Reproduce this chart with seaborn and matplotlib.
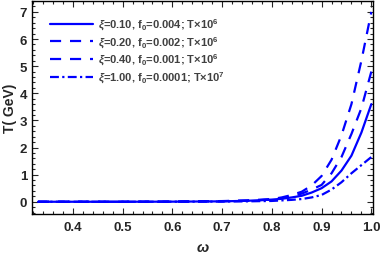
import numpy as np
import pandas as pd
import matplotlib
matplotlib.use("Agg")
import matplotlib.pyplot as plt
import seaborn as sns
from matplotlib.ticker import MultipleLocator, AutoMinorLocator

# data
omega = [0.33, 0.40, 0.50, 0.60, 0.70, 0.75, 0.80, 0.82, 0.84, 0.86, 0.88,
         0.90, 0.92, 0.94, 0.96, 0.98, 1.00]
T_xi010 = [0.0, 0.0, 0.0, 0.004, 0.015, 0.035, 0.08, 0.11, 0.16, 0.22, 0.34,
           0.50, 0.75, 1.15, 1.70, 2.55, 3.60]
T_xi020 = [0.0, 0.0, 0.0, 0.006, 0.025, 0.05, 0.10, 0.16, 0.25, 0.37, 0.60,
           0.95, 1.55, 2.45, 3.60, 5.20, 7.00]
T_xi040 = [0.0, 0.0, 0.0, 0.005, 0.02, 0.04, 0.08, 0.13, 0.20, 0.30, 0.45,
           0.62, 1.05, 1.65, 2.50, 3.45, 4.80]
T_xi100 = [0.0, 0.0, 0.0, 0.002, 0.008, 0.015, 0.03, 0.05, 0.07, 0.10, 0.16,
           0.25, 0.45, 0.72, 1.05, 1.35, 1.65]
labels = [r"$\xi$=0.10, f$_0$=0.004; T×10$^6$",
          r"$\xi$=0.20, f$_0$=0.002; T×10$^6$",
          r"$\xi$=0.40, f$_0$=0.001; T×10$^6$",
          r"$\xi$=1.00, f$_0$=0.0001; T×10$^7$"]

sns.set_style("ticks")
plt.rcParams["font.family"] = ["Liberation Sans", "DejaVu Sans"]
plt.rcParams["mathtext.fontset"] = "custom"
plt.rcParams["mathtext.rm"] = "Liberation Sans:bold"
plt.rcParams["mathtext.it"] = "Liberation Sans:italic:bold"
plt.rcParams["mathtext.bf"] = "Liberation Sans:bold"

fig = plt.figure(figsize=(3.82, 2.55), dpi=100)
ax = fig.add_axes([0.084, 0.157, 0.892, 0.835])

styles = ["-", (0, (5, 4)), (0, (5, 4)), (0, (4, 1.5, 1, 1.5))]
series = [T_xi010, T_xi020, T_xi040, T_xi100]
for vals, lab, ls in zip(series, labels, styles):
    df = pd.DataFrame({"omega": omega, "T": vals})
    sns.lineplot(data=df, x="omega", y="T", ax=ax, color="#0000ff",
                 linewidth=1.6, linestyle=ls, label=lab)

ax.set_xlim(0.318, 1.003)
ax.set_ylim(-0.45, 7.4)
ax.xaxis.set_major_locator(MultipleLocator(0.1))
ax.xaxis.set_minor_locator(AutoMinorLocator(5))
ax.yaxis.set_major_locator(MultipleLocator(1))
ax.yaxis.set_minor_locator(AutoMinorLocator(5))
ax.tick_params(which="both", direction="in", top=True, right=True,
               labelsize=9.5, width=0.8)
ax.tick_params(which="major", length=4)
ax.tick_params(which="minor", length=2)
ax.tick_params(axis="x", which="major", pad=5)
ax.tick_params(axis="y", which="major", pad=3.5)
for lab in ax.get_xticklabels() + ax.get_yticklabels():
    lab.set_fontweight("bold")
for s in ax.spines.values():
    s.set_linewidth(1.0)
    s.set_color("black")

ax.set_xlabel(r"$\omega$", fontsize=10.5, labelpad=5)
ax.set_ylabel("T( GeV)", fontsize=10, fontweight="bold", labelpad=2)

leg = ax.legend(loc="upper left", bbox_to_anchor=(0.018, 0.985), frameon=False,
                fontsize=8, handlelength=3.8, handletextpad=0.5,
                labelspacing=0.2, borderaxespad=0.7)
for t in leg.get_texts():
    t.set_color("#404040")
    t.set_fontweight("bold")

fig.savefig("out.png", dpi=100)
